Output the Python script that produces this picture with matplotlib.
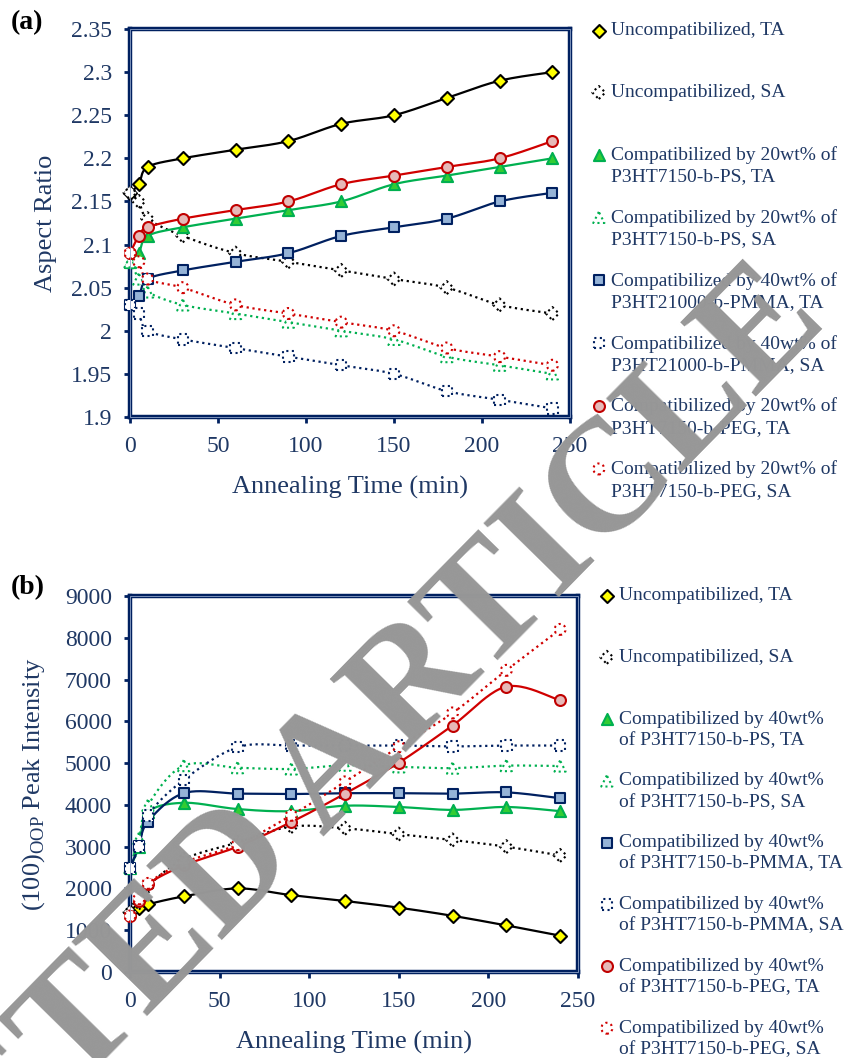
import numpy as np
import matplotlib
matplotlib.use("Agg")
import matplotlib.pyplot as plt
from matplotlib.patches import Rectangle
from matplotlib.ticker import FuncFormatter, MultipleLocator

plt.rcParams['font.family'] = ['Liberation Serif', 'DejaVu Serif']
plt.rcParams['mathtext.fontset'] = 'custom'
plt.rcParams['mathtext.rm'] = 'Liberation Serif'

# ---------------- data ----------------
time_min = [0, 5, 10, 30, 60, 90, 120, 150, 180, 210, 240]

# (a) aspect ratio
ar_uncomp_ta = [2.16, 2.17, 2.19, 2.20, 2.21, 2.22, 2.24, 2.25, 2.27, 2.29, 2.30]
ar_uncomp_sa = [2.16, 2.15, 2.13, 2.11, 2.09, 2.08, 2.07, 2.06, 2.05, 2.03, 2.02]
ar_ps_ta = [2.08, 2.09, 2.11, 2.12, 2.13, 2.14, 2.15, 2.17, 2.18, 2.19, 2.20]
ar_ps_sa = [2.08, 2.06, 2.045, 2.03, 2.02, 2.01, 2.00, 1.99, 1.97, 1.96, 1.95]
ar_pmma_ta = [2.03, 2.04, 2.06, 2.07, 2.08, 2.09, 2.11, 2.12, 2.13, 2.15, 2.16]
ar_pmma_sa = [2.03, 2.02, 2.00, 1.99, 1.98, 1.97, 1.96, 1.95, 1.93, 1.92, 1.91]
ar_peg_ta = [2.09, 2.11, 2.12, 2.13, 2.14, 2.15, 2.17, 2.18, 2.19, 2.20, 2.22]
ar_peg_sa = [2.09, 2.08, 2.06, 2.05, 2.03, 2.02, 2.01, 2.00, 1.98, 1.97, 1.96]

# (b) (100)OOP peak intensity
pi_uncomp_ta = [1430, 1530, 1620, 1810, 2000, 1840, 1700, 1540, 1345, 1115, 870]
pi_uncomp_sa = [1430, 1650, 2050, 2700, 3100, 3480, 3440, 3300, 3160, 3000, 2790]
pi_ps_ta = [2500, 3000, 3820, 4050, 3900, 3850, 3980, 3950, 3880, 3950, 3850]
pi_ps_sa = [2500, 3200, 3990, 4940, 4890, 4860, 4950, 4910, 4880, 4940, 4930]
pi_pmma_ta = [2480, 3020, 3600, 4280, 4270, 4260, 4280, 4280, 4270, 4300, 4160]
pi_pmma_sa = [2480, 3000, 3750, 4600, 5380, 5420, 5420, 5420, 5400, 5420, 5420]
pi_peg_ta = [1340, 1700, 2100, 2550, 3000, 3590, 4270, 5010, 5900, 6830, 6500]
pi_peg_sa = [1340, 1750, 2120, 2620, 3050, 3750, 4550, 5390, 6200, 7220, 8200]

labels_a = [
    "Uncompatibilized, TA\n",
    "Uncompatibilized, SA\n",
    "Compatibilized by 20wt% of\nP3HT7150-b-PS, TA",
    "Compatibilized by 20wt% of\nP3HT7150-b-PS, SA",
    "Compatibilized by 40wt% of\nP3HT21000-b-PMMA, TA",
    "Compatibilized by 40wt% of\nP3HT21000-b-PMMA, SA",
    "Compatibilized by 20wt% of\nP3HT7150-b-PEG, TA",
    "Compatibilized by 20wt% of\nP3HT7150-b-PEG, SA",
]
labels_b = [
    "Uncompatibilized, TA\n",
    "Uncompatibilized, SA\n",
    "Compatibilized by 40wt%\nof P3HT7150-b-PS, TA",
    "Compatibilized by 40wt%\nof P3HT7150-b-PS, SA",
    "Compatibilized by 40wt%\nof P3HT7150-b-PMMA, TA",
    "Compatibilized by 40wt%\nof P3HT7150-b-PMMA, SA",
    "Compatibilized by 40wt%\nof P3HT7150-b-PEG, TA",
    "Compatibilized by 40wt%\nof P3HT7150-b-PEG, SA",
]

series_a = [ar_uncomp_ta, ar_uncomp_sa, ar_ps_ta, ar_ps_sa,
            ar_pmma_ta, ar_pmma_sa, ar_peg_ta, ar_peg_sa]
series_b = [pi_uncomp_ta, pi_uncomp_sa, pi_ps_ta, pi_ps_sa,
            pi_pmma_ta, pi_pmma_sa, pi_peg_ta, pi_peg_sa]

# ---------------- styles ----------------
NAVY = '#002060'
TXT = '#1F3864'
styles = [
    dict(lc='black', ls='-', m='D', fc='#FFFF00', ec='black', mls='-', s=44),
    dict(lc='black', ls=':', m='D', fc='white', ec='black', mls=':', s=44),
    dict(lc='#00B050', ls='-', m='^', fc='#33CC33', ec='#00B050', mls='-', s=64),
    dict(lc='#00B050', ls=':', m='^', fc='white', ec='#00B050', mls=':', s=64),
    dict(lc=NAVY, ls='-', m='s', fc='#95B3D7', ec=NAVY, mls='-', s=56),
    dict(lc=NAVY, ls=':', m='s', fc='white', ec=NAVY, mls=':', s=56),
    dict(lc='#D00000', ls='-', m='o', fc='#E6B9B8', ec='#C00000', mls='-', s=62),
    dict(lc='#D00000', ls=':', m='o', fc='white', ec='#D00000', mls=':', s=62),
]


def smooth(x, y, sx, sy, n=24):
    """Excel-like smoothed line (Bezier through points) for drawing."""
    P = np.column_stack([np.asarray(x, float) * sx, np.asarray(y, float) * sy])
    P = np.vstack([P[0], P, P[-1]])
    segs = []
    t = np.linspace(0, 1, n, endpoint=False)[:, None]
    for i in range(1, len(P) - 2):
        p0, p1, p2, p3 = P[i - 1], P[i], P[i + 1], P[i + 2]
        c1 = p1 + (p2 - p0) / 6.0
        c2 = p2 - (p3 - p1) / 6.0
        segs.append((1 - t) ** 3 * p1 + 3 * (1 - t) ** 2 * t * c1
                    + 3 * (1 - t) * t ** 2 * c2 + t ** 3 * p2)
    segs.append(P[-2][None, :])
    out = np.vstack(segs)
    return out[:, 0] / sx, out[:, 1] / sy


W, H = 851, 1058
fig = plt.figure(figsize=(W / 100, H / 100), dpi=100)

ax_a = fig.add_axes([130 / W, 1 - 417 / H, 440 / W, 388 / H])
ax_b = fig.add_axes([130 / W, 1 - 972 / H, 448 / W, 376 / H])


def draw_panel(ax, series, labels, ylim, ystep, ylabel, fmt, leg_anchor, axw, axh,
               lspace, ylpad):
    ax.set_xlim(0, 250)
    ax.set_ylim(*ylim)
    sx = axw / 250.0
    sy = axh / (ylim[1] - ylim[0])
    handles = []
    for k, (vals, st) in enumerate(zip(series, styles)):
        xs, ys = smooth(time_min, vals, sx, sy)
        ax.plot(xs, ys, color=st['lc'], ls=st['ls'], lw=1.6, zorder=2 + k * 0.01,
                clip_on=False)
        h = ax.scatter(time_min, vals, marker=st['m'], s=st['s'], facecolors=st['fc'],
                       edgecolors=st['ec'], linewidths=1.5, linestyles=st['mls'],
                       zorder=3 + k * 0.01, clip_on=False)
        handles.append(h)
    for sp in ax.spines.values():
        sp.set_color(NAVY)
        sp.set_linewidth(3.2)
    # thin light inner stripe to mimic the compound (double) frame line
    ax.add_patch(Rectangle((0, 0), 1, 1, transform=ax.transAxes, fill=False,
                           edgecolor='#8FA3C8', lw=0.6, zorder=4, clip_on=False))
    ax.xaxis.set_major_locator(MultipleLocator(50))
    ax.yaxis.set_major_locator(MultipleLocator(ystep))
    ax.yaxis.set_major_formatter(FuncFormatter(fmt))
    ax.tick_params(axis='both', direction='out', length=4, width=2, color=NAVY,
                   labelsize=17, labelcolor=TXT)
    ax.tick_params(axis='y', pad=9)
    ax.tick_params(axis='x', pad=10)
    ax.set_xlabel('Annealing Time (min)', fontsize=19, color=TXT, labelpad=13)
    ax.set_ylabel(ylabel, fontsize=19, color=TXT, labelpad=ylpad)
    leg = ax.legend(handles, labels, loc='upper left', bbox_to_anchor=leg_anchor,
                    bbox_transform=fig.transFigure, frameon=False, fontsize=14,
                    labelcolor=TXT, handlelength=0.6, handletextpad=0.35,
                    labelspacing=lspace, borderpad=0, borderaxespad=0, scatterpoints=1)
    for t in leg.get_texts():
        t.set_linespacing(1.33)
    try:
        for col in leg._legend_handle_box.get_children():
            for item in col.get_children():
                item.align = 'top'
    except Exception:
        pass
    return leg


draw_panel(ax_a, series_a, labels_a, (1.9, 2.35), 0.05, 'Aspect Ratio',
           lambda v, p: f'{v:.2f}'.rstrip('0').rstrip('.'),
           (593 / W, 1 - 22 / H), 440, 388, 1.22, 10)
draw_panel(ax_b, series_b, labels_b, (0, 9000), 1000,
           r'(100)$_{\mathregular{OOP}}$ Peak Intensity',
           lambda v, p: f'{v:.0f}',
           (601 / W, 1 - 587 / H), 448, 376, 1.21, 13)

fig.text(11 / W, 1 - 23 / H, '(a)', fontsize=20, fontweight='bold', va='center', ha='left')
fig.text(11 / W, 1 - 588 / H, '(b)', fontsize=20, fontweight='bold', va='center', ha='left')

# watermark
fig.text(214 / W, 1 - 948 / H, 'RETRACTED ARTICLE', fontsize=115, fontweight='bold',
         color='#979797', rotation=45.5, rotation_mode='anchor', ha='center',
         va='baseline', zorder=10)

fig.savefig('out.png', dpi=100)
